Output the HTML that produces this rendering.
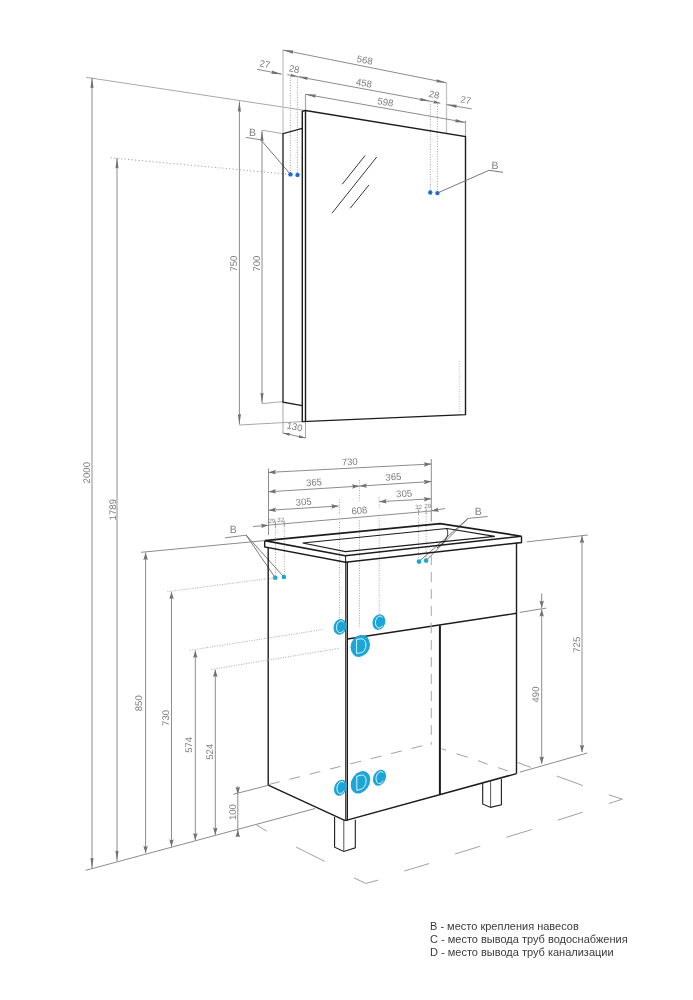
<!DOCTYPE html>
<html><head><meta charset="utf-8"><style>
html,body{margin:0;padding:0;background:#fff;width:693px;height:1000px;overflow:hidden}
svg{display:block;will-change:transform;text-rendering:geometricPrecision;font-family:"Liberation Sans",sans-serif}
.leg{position:absolute;left:430px;top:919.7px;font-family:"Liberation Sans",sans-serif;font-size:11px;line-height:13.3px;color:#3a3a3a;white-space:nowrap}
</style></head><body>
<svg width="693" height="1000" viewBox="0 0 693 1000">
<line x1="86" y1="77.3" x2="305.5" y2="110.5" stroke="#a8a8a8" stroke-width="1" stroke-linecap="butt"/>
<line x1="92" y1="77.8" x2="92" y2="868.3" stroke="#8c8c8c" stroke-width="1" stroke-linecap="butt"/>
<path d="M92.00,77.80 L90.40,88.30 L92.00,87.50 L93.60,88.30 Z" fill="#707070"/>
<path d="M92.00,868.30 L93.60,857.80 L92.00,858.60 L90.40,857.80 Z" fill="#707070"/>
<text x="87.4" y="472.7" font-size="9.6" fill="#7d7d7d" text-anchor="middle" dominant-baseline="central" transform="rotate(-90 87.4 472.7)" >2000</text>
<line x1="110.6" y1="157.8" x2="290.5" y2="174.4" stroke="#a0a0a0" stroke-width="1" stroke-linecap="butt" stroke-dasharray="1.2,2.3"/>
<line x1="117" y1="158" x2="117" y2="861" stroke="#8c8c8c" stroke-width="1" stroke-linecap="butt"/>
<path d="M117.00,158.00 L115.40,168.50 L117.00,167.70 L118.60,168.50 Z" fill="#707070"/>
<path d="M117.00,861.00 L118.60,850.50 L117.00,851.30 L115.40,850.50 Z" fill="#707070"/>
<text x="113.1" y="509.7" font-size="9.6" fill="#7d7d7d" text-anchor="middle" dominant-baseline="central" transform="rotate(-90 113.1 509.7)" >1789</text>
<line x1="239.4" y1="101.3" x2="239.4" y2="424.5" stroke="#8c8c8c" stroke-width="1" stroke-linecap="butt"/>
<path d="M239.40,101.30 L237.80,111.80 L239.40,111.00 L241.00,111.80 Z" fill="#707070"/>
<path d="M239.40,424.50 L241.00,414.00 L239.40,414.80 L237.80,414.00 Z" fill="#707070"/>
<line x1="239.4" y1="425" x2="302.3" y2="421.6" stroke="#a8a8a8" stroke-width="1" stroke-linecap="butt"/>
<text x="234.8" y="263.6" font-size="9.6" fill="#7d7d7d" text-anchor="middle" dominant-baseline="central" transform="rotate(-90 234.8 263.6)" >750</text>
<line x1="262" y1="130.6" x2="262" y2="403.3" stroke="#8c8c8c" stroke-width="1" stroke-linecap="butt"/>
<path d="M262.00,130.60 L260.40,141.10 L262.00,140.30 L263.60,141.10 Z" fill="#707070"/>
<path d="M262.00,403.30 L263.60,392.80 L262.00,393.60 L260.40,392.80 Z" fill="#707070"/>
<line x1="262" y1="130.2" x2="283" y2="133.7" stroke="#a8a8a8" stroke-width="1" stroke-linecap="butt"/>
<line x1="262" y1="403.6" x2="283" y2="401.6" stroke="#a8a8a8" stroke-width="1" stroke-linecap="butt"/>
<text x="257.4" y="263.6" font-size="9.6" fill="#7d7d7d" text-anchor="middle" dominant-baseline="central" transform="rotate(-90 257.4 263.6)" >700</text>
<text x="252.4" y="132.5" font-size="10.5" fill="#7d7d7d" text-anchor="middle" dominant-baseline="central" transform="rotate(0 252.4 132.5)" >B</text>
<line x1="245.8" y1="137.4" x2="260.8" y2="139.8" stroke="#8c8c8c" stroke-width="1" stroke-linecap="butt"/>
<line x1="260.8" y1="139.8" x2="290.5" y2="174.4" stroke="#6a6a6a" stroke-width="0.9" stroke-linecap="butt"/>
<line x1="283" y1="401.6" x2="283" y2="433.5" stroke="#a8a8a8" stroke-width="1" stroke-linecap="butt"/>
<line x1="305.5" y1="421.6" x2="305.5" y2="438.5" stroke="#a8a8a8" stroke-width="1" stroke-linecap="butt"/>
<line x1="283" y1="433" x2="305.5" y2="438" stroke="#8c8c8c" stroke-width="1" stroke-linecap="butt"/>
<path d="M283.00,433.00 L289.49,436.08 L289.05,434.34 L290.18,432.96 Z" fill="#707070"/>
<path d="M305.50,438.00 L299.01,434.92 L299.45,436.66 L298.32,438.04 Z" fill="#707070"/>
<text x="294.5" y="427.5" font-size="9.5" fill="#7d7d7d" text-anchor="middle" dominant-baseline="central" transform="rotate(12.528807709151511 294.5 427.5)" >130</text>
<line x1="283" y1="49.5" x2="283" y2="133.7" stroke="#c4c4c4" stroke-width="1.3" stroke-linecap="butt"/>
<line x1="446.5" y1="82.5" x2="446.5" y2="133" stroke="#c4c4c4" stroke-width="1.3" stroke-linecap="butt"/>
<line x1="283" y1="50.1" x2="446.5" y2="82.8" stroke="#8c8c8c" stroke-width="1" stroke-linecap="butt"/>
<path d="M283.00,50.10 L292.98,53.73 L292.51,52.00 L293.61,50.59 Z" fill="#707070"/>
<path d="M446.50,82.80 L436.52,79.17 L436.99,80.90 L435.89,82.31 Z" fill="#707070"/>
<text x="364.7" y="60.8" font-size="9.6" fill="#7d7d7d" text-anchor="middle" dominant-baseline="central" transform="rotate(11.309932474020213 364.7 60.8)" >568</text>
<line x1="257" y1="69.3" x2="281.8" y2="74.2" stroke="#8c8c8c" stroke-width="1" stroke-linecap="butt"/>
<path d="M281.80,74.20 L271.81,70.60 L272.28,72.32 L271.19,73.73 Z" fill="#707070"/>
<text x="264.8" y="64.8" font-size="9.5" fill="#7d7d7d" text-anchor="middle" dominant-baseline="central" transform="rotate(11.176583344319015 264.8 64.8)" >27</text>
<line x1="287.3" y1="74.6" x2="297.4" y2="76.6" stroke="#8c8c8c" stroke-width="1" stroke-linecap="butt"/>
<path d="M297.40,76.60 L290.84,73.67 L291.32,75.40 L290.22,76.81 Z" fill="#707070"/>
<line x1="297.4" y1="76.6" x2="430.3" y2="101.2" stroke="#8c8c8c" stroke-width="1" stroke-linecap="butt"/>
<path d="M297.40,76.60 L307.43,80.08 L306.94,78.37 L308.02,76.94 Z" fill="#707070"/>
<path d="M430.30,101.20 L420.27,97.72 L420.76,99.43 L419.68,100.86 Z" fill="#707070"/>
<text x="294.1" y="69.9" font-size="9.5" fill="#7d7d7d" text-anchor="middle" dominant-baseline="central" transform="rotate(11 294.1 69.9)" >28</text>
<text x="363.8" y="83.9" font-size="9.6" fill="#7d7d7d" text-anchor="middle" dominant-baseline="central" transform="rotate(10.486845553323574 363.8 83.9)" >458</text>
<line x1="430.3" y1="101.2" x2="440.4" y2="103.2" stroke="#8c8c8c" stroke-width="1" stroke-linecap="butt"/>
<path d="M440.40,103.20 L433.84,100.27 L434.32,102.00 L433.22,103.41 Z" fill="#707070"/>
<text x="434" y="95.2" font-size="9.5" fill="#7d7d7d" text-anchor="middle" dominant-baseline="central" transform="rotate(11 434 95.2)" >28</text>
<line x1="446.5" y1="104.6" x2="471.7" y2="108.9" stroke="#8c8c8c" stroke-width="1" stroke-linecap="butt"/>
<path d="M446.50,104.60 L456.58,107.94 L456.06,106.23 L457.12,104.79 Z" fill="#707070"/>
<text x="465.7" y="100.8" font-size="9.5" fill="#7d7d7d" text-anchor="middle" dominant-baseline="central" transform="rotate(10 465.7 100.8)" >27</text>
<line x1="305.5" y1="93.8" x2="305.5" y2="110.5" stroke="#a8a8a8" stroke-width="1.2" stroke-linecap="butt"/>
<line x1="465.5" y1="120.5" x2="465.5" y2="136.6" stroke="#a8a8a8" stroke-width="1.2" stroke-linecap="butt"/>
<line x1="305.5" y1="94.3" x2="465.5" y2="122.4" stroke="#8c8c8c" stroke-width="1" stroke-linecap="butt"/>
<path d="M305.50,94.30 L315.56,97.69 L315.05,95.98 L316.12,94.54 Z" fill="#707070"/>
<path d="M465.50,122.40 L455.44,119.01 L455.95,120.72 L454.88,122.16 Z" fill="#707070"/>
<text x="385.4" y="102.9" font-size="9.6" fill="#7d7d7d" text-anchor="middle" dominant-baseline="central" transform="rotate(9.960987588293117 385.4 102.9)" >598</text>
<line x1="290.4" y1="75" x2="290.4" y2="174.4" stroke="#a0a0a0" stroke-width="0.9" stroke-linecap="butt" stroke-dasharray="1.1,1.4"/>
<line x1="297.4" y1="77" x2="297.4" y2="175" stroke="#a0a0a0" stroke-width="0.9" stroke-linecap="butt" stroke-dasharray="1.1,1.4"/>
<line x1="430.3" y1="101.5" x2="430.3" y2="192.5" stroke="#a0a0a0" stroke-width="0.9" stroke-linecap="butt" stroke-dasharray="1.1,1.4"/>
<line x1="437.4" y1="103.5" x2="437.4" y2="193" stroke="#a0a0a0" stroke-width="0.9" stroke-linecap="butt" stroke-dasharray="1.1,1.4"/>
<path d="M302.3,421.6 L302.3,111.3 L305.5,110.5 L465.5,136.6 L465.5,414.6 Z" stroke="#1c1c1c" stroke-width="1.4" fill="none" stroke-linejoin="miter"/>
<line x1="305.5" y1="110.5" x2="305.5" y2="421.4" stroke="#1c1c1c" stroke-width="1.4" stroke-linecap="butt"/>
<path d="M302.3,128.3 L283,133.7 L283,402.2 L302.3,405.6" stroke="#1c1c1c" stroke-width="1.3" fill="none" stroke-linejoin="miter"/>
<line x1="342.2" y1="184.3" x2="365.2" y2="155.4" stroke="#3a3a3a" stroke-width="1" stroke-linecap="butt"/>
<line x1="332" y1="213.2" x2="376.8" y2="156.9" stroke="#3a3a3a" stroke-width="1" stroke-linecap="butt"/>
<line x1="350.2" y1="208.3" x2="369" y2="184.9" stroke="#3a3a3a" stroke-width="1" stroke-linecap="butt"/>
<line x1="459.4" y1="361" x2="459.4" y2="413.6" stroke="#b8b8b8" stroke-width="0.8" stroke-linecap="butt" stroke-dasharray="1.1,1.4"/>
<circle cx="290.5" cy="174.4" r="2.2" fill="#1a6fc9"/>
<circle cx="297.5" cy="174.9" r="2.2" fill="#1a6fc9"/>
<circle cx="430.3" cy="192.5" r="2.2" fill="#1a6fc9"/>
<circle cx="437.4" cy="193.1" r="2.2" fill="#1a6fc9"/>
<path d="M437.4,193.1 L488.9,170.3 L503,172.3" stroke="#6a6a6a" stroke-width="0.9" fill="none" stroke-linejoin="miter"/>
<text x="495" y="165.9" font-size="10.5" fill="#7d7d7d" text-anchor="middle" dominant-baseline="central" transform="rotate(0 495 165.9)" >B</text>
<line x1="268.5" y1="468.5" x2="268.5" y2="535" stroke="#8c8c8c" stroke-width="1" stroke-linecap="butt"/>
<line x1="431.3" y1="459" x2="431.3" y2="521.4" stroke="#8c8c8c" stroke-width="1" stroke-linecap="butt"/>
<line x1="268.5" y1="472.4" x2="431.3" y2="464" stroke="#8c8c8c" stroke-width="1" stroke-linecap="butt"/>
<path d="M268.50,472.40 L276.11,474.26 L274.79,472.08 L275.87,469.77 Z" fill="#707070"/>
<path d="M431.30,464.00 L423.69,462.14 L425.01,464.32 L423.93,466.63 Z" fill="#707070"/>
<text x="349.8" y="462.7" font-size="9.6" fill="#7d7d7d" text-anchor="middle" dominant-baseline="central" transform="rotate(-2.9536740048968197 349.8 462.7)" >730</text>
<line x1="268.5" y1="491.8" x2="359.5" y2="486.1" stroke="#8c8c8c" stroke-width="1" stroke-linecap="butt"/>
<path d="M268.50,491.80 L276.13,493.58 L274.79,491.41 L275.84,489.09 Z" fill="#707070"/>
<path d="M359.50,486.10 L351.87,484.32 L353.21,486.49 L352.16,488.81 Z" fill="#707070"/>
<text x="314" y="483.2" font-size="9.6" fill="#7d7d7d" text-anchor="middle" dominant-baseline="central" transform="rotate(-3.584173983556628 314 483.2)" >365</text>
<line x1="359.5" y1="486.1" x2="431.3" y2="481.5" stroke="#8c8c8c" stroke-width="1" stroke-linecap="butt"/>
<path d="M359.50,486.10 L367.13,487.87 L365.79,485.70 L366.84,483.38 Z" fill="#707070"/>
<path d="M431.30,481.50 L423.67,479.73 L425.01,481.90 L423.96,484.22 Z" fill="#707070"/>
<text x="393.4" y="477.7" font-size="9.6" fill="#7d7d7d" text-anchor="middle" dominant-baseline="central" transform="rotate(-3.665750292630392 393.4 477.7)" >365</text>
<line x1="268.5" y1="510.3" x2="338.7" y2="506" stroke="#8c8c8c" stroke-width="1" stroke-linecap="butt"/>
<path d="M268.50,510.30 L276.12,512.09 L274.79,509.91 L275.85,507.60 Z" fill="#707070"/>
<path d="M338.70,506.00 L331.08,504.21 L332.41,506.39 L331.35,508.70 Z" fill="#707070"/>
<text x="303.7" y="502.7" font-size="9.6" fill="#7d7d7d" text-anchor="middle" dominant-baseline="central" transform="rotate(-3.5051910933174146 303.7 502.7)" >305</text>
<line x1="379.2" y1="501.7" x2="431.3" y2="498.8" stroke="#8c8c8c" stroke-width="1" stroke-linecap="butt"/>
<path d="M379.20,501.70 L386.81,503.53 L385.49,501.35 L386.56,499.04 Z" fill="#707070"/>
<path d="M431.30,498.80 L423.69,496.97 L425.01,499.15 L423.94,501.46 Z" fill="#707070"/>
<text x="404.2" y="494.4" font-size="9.6" fill="#7d7d7d" text-anchor="middle" dominant-baseline="central" transform="rotate(-3.185920879861791 404.2 494.4)" >305</text>
<line x1="268.5" y1="525.1" x2="431.3" y2="511" stroke="#8c8c8c" stroke-width="1" stroke-linecap="butt"/>
<text x="359.5" y="511.3" font-size="9.6" fill="#7d7d7d" text-anchor="middle" dominant-baseline="central" transform="rotate(-4.949997179783201 359.5 511.3)" >608</text>
<line x1="253" y1="526.5" x2="268.5" y2="525.3" stroke="#8c8c8c" stroke-width="1" stroke-linecap="butt"/>
<path d="M268.50,525.30 L260.85,523.64 L262.22,525.79 L261.20,528.12 Z" fill="#707070"/>
<line x1="431.3" y1="510.9" x2="445" y2="508.5" stroke="#8c8c8c" stroke-width="1" stroke-linecap="butt"/>
<path d="M431.30,510.90 L439.08,511.82 L437.51,509.81 L438.30,507.39 Z" fill="#707070"/>
<text x="271.9" y="521.4" font-size="6.2" fill="#7d7d7d" text-anchor="middle" dominant-baseline="central" transform="rotate(0 271.9 521.4)" >29</text>
<text x="280.8" y="520.8" font-size="6.2" fill="#7d7d7d" text-anchor="middle" dominant-baseline="central" transform="rotate(0 280.8 520.8)" >32</text>
<text x="418.6" y="507" font-size="6.2" fill="#7d7d7d" text-anchor="middle" dominant-baseline="central" transform="rotate(0 418.6 507)" >32</text>
<text x="427.6" y="506" font-size="6.2" fill="#7d7d7d" text-anchor="middle" dominant-baseline="central" transform="rotate(0 427.6 506)" >29</text>
<line x1="275.5" y1="521.4937346437347" x2="275.5" y2="526.9937346437347" stroke="#8c8c8c" stroke-width="0.9" stroke-linecap="butt"/>
<line x1="284.3" y1="520.7315724815725" x2="284.3" y2="526.2315724815725" stroke="#8c8c8c" stroke-width="0.9" stroke-linecap="butt"/>
<line x1="418.6" y1="509.0999385749386" x2="418.6" y2="514.5999385749386" stroke="#8c8c8c" stroke-width="0.9" stroke-linecap="butt"/>
<line x1="426.1" y1="508.4503685503685" x2="426.1" y2="513.9503685503685" stroke="#8c8c8c" stroke-width="0.9" stroke-linecap="butt"/>
<line x1="275.5" y1="522" x2="275.5" y2="577" stroke="#a6a6a6" stroke-width="0.9" stroke-linecap="butt" stroke-dasharray="1.1,1.4"/>
<line x1="284.3" y1="521" x2="284.3" y2="576.5" stroke="#a6a6a6" stroke-width="0.9" stroke-linecap="butt" stroke-dasharray="1.1,1.4"/>
<line x1="418.6" y1="512" x2="418.6" y2="561" stroke="#a6a6a6" stroke-width="0.9" stroke-linecap="butt" stroke-dasharray="1.1,1.4"/>
<line x1="426.1" y1="511" x2="426.1" y2="560" stroke="#a6a6a6" stroke-width="0.9" stroke-linecap="butt" stroke-dasharray="1.1,1.4"/>
<line x1="359.5" y1="480" x2="359.5" y2="500.7" stroke="#a6a6a6" stroke-width="0.9" stroke-linecap="butt" stroke-dasharray="1.1,1.4"/>
<line x1="359.5" y1="520.2" x2="359.5" y2="628" stroke="#a6a6a6" stroke-width="0.9" stroke-linecap="butt" stroke-dasharray="1.1,1.4"/>
<line x1="339.5" y1="499.4" x2="339.5" y2="515" stroke="#a6a6a6" stroke-width="0.9" stroke-linecap="butt" stroke-dasharray="1.1,1.4"/>
<line x1="339.5" y1="522" x2="339.5" y2="620" stroke="#a6a6a6" stroke-width="0.9" stroke-linecap="butt" stroke-dasharray="1.1,1.4"/>
<line x1="379.2" y1="496.8" x2="379.2" y2="509" stroke="#a6a6a6" stroke-width="0.9" stroke-linecap="butt" stroke-dasharray="1.1,1.4"/>
<line x1="379.2" y1="517.6" x2="379.2" y2="615" stroke="#a6a6a6" stroke-width="0.9" stroke-linecap="butt" stroke-dasharray="1.1,1.4"/>
<text x="233.2" y="530.1" font-size="10.5" fill="#7d7d7d" text-anchor="middle" dominant-baseline="central" transform="rotate(0 233.2 530.1)" >B</text>
<line x1="225" y1="537.8" x2="246.2" y2="535.2" stroke="#8c8c8c" stroke-width="1" stroke-linecap="butt"/>
<line x1="246.2" y1="535.2" x2="275.2" y2="577.7" stroke="#6a6a6a" stroke-width="0.9" stroke-linecap="butt"/>
<line x1="246.2" y1="535.2" x2="283.9" y2="577" stroke="#6a6a6a" stroke-width="0.9" stroke-linecap="butt"/>
<text x="478.2" y="512.2" font-size="10.5" fill="#7d7d7d" text-anchor="middle" dominant-baseline="central" transform="rotate(0 478.2 512.2)" >B</text>
<line x1="468.1" y1="518.4" x2="487.6" y2="516.5" stroke="#8c8c8c" stroke-width="1" stroke-linecap="butt"/>
<line x1="468.1" y1="518.4" x2="419" y2="561.6" stroke="#6a6a6a" stroke-width="0.9" stroke-linecap="butt"/>
<line x1="468.1" y1="518.4" x2="426.1" y2="560.6" stroke="#6a6a6a" stroke-width="0.9" stroke-linecap="butt"/>
<path d="M264.7,540.6 L440.2,523.6 L521.5,536.2 L345.2,555.7 Z" stroke="#1c1c1c" stroke-width="1.6" fill="none" stroke-linejoin="miter"/>
<path d="M264.7,540.6 L264.7,546.9 L345.6,562.3 L521.5,542.5 L521.5,536.2" stroke="#1c1c1c" stroke-width="1.4" fill="none" stroke-linejoin="miter"/>
<line x1="345.6" y1="555.7" x2="345.6" y2="562.3" stroke="#1c1c1c" stroke-width="1.0" stroke-linecap="butt"/>
<path d="M302.6,543 L447,528.5 L494.8,536.4 L345.6,551.6 Z" stroke="#1c1c1c" stroke-width="1.1" fill="none" stroke-linejoin="miter"/>
<path d="M447,529 C450,536 444,543 437,548" stroke="#1c1c1c" stroke-width="0.9" fill="none" stroke-linejoin="miter"/>
<line x1="268.2" y1="547" x2="268.2" y2="785.1" stroke="#1c1c1c" stroke-width="1.4" stroke-linecap="butt"/>
<line x1="268.2" y1="785.1" x2="345.2" y2="820.6" stroke="#1c1c1c" stroke-width="1.4" stroke-linecap="butt"/>
<line x1="345.8" y1="561.8" x2="345.8" y2="820.6" stroke="#1c1c1c" stroke-width="1.2" stroke-linecap="butt"/>
<line x1="347.4" y1="561.8" x2="347.4" y2="820.6" stroke="#1c1c1c" stroke-width="1.2" stroke-linecap="butt"/>
<line x1="516.5" y1="542.8" x2="516.5" y2="773.6" stroke="#1c1c1c" stroke-width="1.4" stroke-linecap="butt"/>
<line x1="345.2" y1="820.6" x2="516.5" y2="773.6" stroke="#1c1c1c" stroke-width="1.5" stroke-linecap="butt"/>
<line x1="347.4" y1="639" x2="516.5" y2="613.3" stroke="#1c1c1c" stroke-width="1.4" stroke-linecap="butt"/>
<line x1="439.9" y1="625.5" x2="439.9" y2="794.5" stroke="#1c1c1c" stroke-width="2" stroke-linecap="butt"/>
<path d="M334.6,816.9 L334.6,847.2 L343.8,851.5 L355.3,847.8 L355.3,819.8" stroke="#1c1c1c" stroke-width="1.1" fill="none" stroke-linejoin="miter"/>
<line x1="343.8" y1="819" x2="343.8" y2="851.5" stroke="#444" stroke-width="0.9" stroke-linecap="butt"/>
<path d="M482.7,783.2 L482.7,804 L490.6,807.4 L501.4,804.8 L501.4,778.9" stroke="#1c1c1c" stroke-width="1.1" fill="none" stroke-linejoin="miter"/>
<line x1="490.6" y1="781" x2="490.6" y2="807.4" stroke="#444" stroke-width="0.9" stroke-linecap="butt"/>
<line x1="268.9" y1="784.5" x2="426" y2="744.8" stroke="#a0a0a0" stroke-width="1" stroke-linecap="butt" stroke-dasharray="11,10"/>
<line x1="431.3" y1="555" x2="431.3" y2="744.8" stroke="#a8a8a8" stroke-width="1" stroke-linecap="butt" stroke-dasharray="10,7"/>
<line x1="441.6" y1="748.6" x2="446" y2="750.3" stroke="#a0a0a0" stroke-width="1" stroke-linecap="butt"/>
<line x1="456.4" y1="753.8" x2="467.6" y2="757.2" stroke="#a0a0a0" stroke-width="1" stroke-linecap="butt"/>
<line x1="478" y1="760.7" x2="487.5" y2="764.2" stroke="#a0a0a0" stroke-width="1" stroke-linecap="butt"/>
<line x1="498" y1="767.6" x2="508.3" y2="771.1" stroke="#a0a0a0" stroke-width="1" stroke-linecap="butt"/>
<circle cx="275.2" cy="577.7" r="2.3" fill="#1ba5d8"/>
<circle cx="283.9" cy="577" r="2.3" fill="#1ba5d8"/>
<circle cx="419" cy="561.6" r="2.3" fill="#1ba5d8"/>
<circle cx="426.1" cy="560.6" r="2.3" fill="#1ba5d8"/>
<g transform="translate(340 626.9) skewY(-8.59)"><ellipse cx="0" cy="0" rx="6.5" ry="7.8" fill="#1ba5d8"/><path d="M3.1,-3.9 A4.1,5.9 0 1 0 3.1,3.9" transform="translate(0.6 0)" fill="none" stroke="#fff" stroke-width="0.8"/></g>
<g transform="translate(378.9 622.1) skewY(-8.59)"><ellipse cx="0" cy="0" rx="6.5" ry="7.7" fill="#1ba5d8"/><path d="M3.1,-3.9 A4.1,5.9 0 1 0 3.1,3.9" transform="translate(0.6 0)" fill="none" stroke="#fff" stroke-width="0.8"/></g>
<g transform="translate(360.3 645.9) skewY(-8.59)"><ellipse cx="0" cy="0" rx="9.75" ry="10.9" fill="#1ba5d8"/><path d="M-4.3,-7 L-4.3,7 L0.2,7 A4.8,7 0 0 0 0.2,-7 Z" transform="translate(0.6 0)" fill="none" stroke="#fff" stroke-width="0.8"/></g>
<g transform="translate(340.4 787.7) skewY(-15.38)"><ellipse cx="0" cy="0" rx="6.5" ry="7.8" fill="#1ba5d8"/><path d="M3.1,-3.9 A4.1,5.9 0 1 0 3.1,3.9" transform="translate(0.6 0)" fill="none" stroke="#fff" stroke-width="0.8"/></g>
<g transform="translate(360.5 782.3) skewY(-15.38)"><ellipse cx="0" cy="0" rx="9.75" ry="10.9" fill="#1ba5d8"/><path d="M-4.3,-7 L-4.3,7 L0.2,7 A4.8,7 0 0 0 0.2,-7 Z" transform="translate(0.6 0)" fill="none" stroke="#fff" stroke-width="0.8"/></g>
<g transform="translate(379.5 777.8) skewY(-15.38)"><ellipse cx="0" cy="0" rx="6.6" ry="7.8" fill="#1ba5d8"/><path d="M3.1,-3.9 A4.1,5.9 0 1 0 3.1,3.9" transform="translate(0.6 0)" fill="none" stroke="#fff" stroke-width="0.8"/></g>
<line x1="141.1" y1="552.3" x2="264.7" y2="540.6" stroke="#8c8c8c" stroke-width="1" stroke-linecap="butt"/>
<line x1="145.6" y1="552.6" x2="145.6" y2="853.3" stroke="#8c8c8c" stroke-width="1" stroke-linecap="butt"/>
<path d="M145.60,552.60 L143.35,560.10 L145.60,558.90 L147.85,560.10 Z" fill="#707070"/>
<path d="M145.60,853.30 L147.85,845.80 L145.60,847.00 L143.35,845.80 Z" fill="#707070"/>
<text x="139.8" y="703.2" font-size="9.6" fill="#7d7d7d" text-anchor="middle" dominant-baseline="central" transform="rotate(-90 139.8 703.2)" >850</text>
<line x1="167.4" y1="591.7" x2="275.2" y2="577.7" stroke="#a6a6a6" stroke-width="0.9" stroke-linecap="butt" stroke-dasharray="1.1,1.4"/>
<line x1="171.5" y1="591.8" x2="171.5" y2="846.8" stroke="#8c8c8c" stroke-width="1" stroke-linecap="butt"/>
<path d="M171.50,591.80 L169.25,599.30 L171.50,598.10 L173.75,599.30 Z" fill="#707070"/>
<path d="M171.50,846.80 L173.75,839.30 L171.50,840.50 L169.25,839.30 Z" fill="#707070"/>
<text x="166.7" y="717.9" font-size="9.6" fill="#7d7d7d" text-anchor="middle" dominant-baseline="central" transform="rotate(-90 166.7 717.9)" >730</text>
<line x1="189.8" y1="650.3" x2="323.5" y2="629.4" stroke="#a6a6a6" stroke-width="0.9" stroke-linecap="butt" stroke-dasharray="1.1,1.4"/>
<line x1="195.3" y1="650.5" x2="195.3" y2="840.5" stroke="#8c8c8c" stroke-width="1" stroke-linecap="butt"/>
<path d="M195.30,650.50 L193.05,658.00 L195.30,656.80 L197.55,658.00 Z" fill="#707070"/>
<path d="M195.30,840.50 L197.55,833.00 L195.30,834.20 L193.05,833.00 Z" fill="#707070"/>
<text x="189.2" y="744.8" font-size="9.6" fill="#7d7d7d" text-anchor="middle" dominant-baseline="central" transform="rotate(-90 189.2 744.8)" >574</text>
<line x1="211.4" y1="669.4" x2="339.5" y2="648.3" stroke="#a6a6a6" stroke-width="0.9" stroke-linecap="butt" stroke-dasharray="1.1,1.4"/>
<line x1="215.3" y1="669.6" x2="215.3" y2="835" stroke="#8c8c8c" stroke-width="1" stroke-linecap="butt"/>
<path d="M215.30,669.60 L213.05,677.10 L215.30,675.90 L217.55,677.10 Z" fill="#707070"/>
<path d="M215.30,835.00 L217.55,827.50 L215.30,828.70 L213.05,827.50 Z" fill="#707070"/>
<text x="210.8" y="751.7" font-size="9.6" fill="#7d7d7d" text-anchor="middle" dominant-baseline="central" transform="rotate(-90 210.8 751.7)" >524</text>
<line x1="233.3" y1="794.3" x2="268.3" y2="785.3" stroke="#8c8c8c" stroke-width="1" stroke-linecap="butt"/>
<line x1="237.8" y1="786" x2="237.8" y2="837" stroke="#8c8c8c" stroke-width="1" stroke-linecap="butt"/>
<path d="M237.80,794.30 L240.05,786.80 L237.80,788.00 L235.55,786.80 Z" fill="#707070"/>
<path d="M237.80,829.70 L235.55,837.20 L237.80,836.00 L240.05,837.20 Z" fill="#707070"/>
<text x="233.1" y="812.1" font-size="9.6" fill="#7d7d7d" text-anchor="middle" dominant-baseline="central" transform="rotate(-90 233.1 812.1)" >100</text>
<line x1="85.5" y1="870.4" x2="315.2" y2="808.5" stroke="#8c8c8c" stroke-width="1" stroke-linecap="butt"/>
<line x1="526.6" y1="541.9" x2="587.8" y2="535" stroke="#8c8c8c" stroke-width="1" stroke-linecap="butt"/>
<line x1="582" y1="535.8" x2="582" y2="752.2" stroke="#8c8c8c" stroke-width="1" stroke-linecap="butt"/>
<path d="M582.00,535.80 L579.75,543.30 L582.00,542.10 L584.25,543.30 Z" fill="#707070"/>
<path d="M582.00,752.20 L584.25,744.70 L582.00,745.90 L579.75,744.70 Z" fill="#707070"/>
<text x="577.1" y="644.7" font-size="9.6" fill="#7d7d7d" text-anchor="middle" dominant-baseline="central" transform="rotate(-90 577.1 644.7)" >725</text>
<line x1="519.7" y1="772.2" x2="587.3" y2="753" stroke="#8c8c8c" stroke-width="1" stroke-linecap="butt"/>
<line x1="519.7" y1="612.4" x2="546.2" y2="608.1" stroke="#8c8c8c" stroke-width="1" stroke-linecap="butt"/>
<line x1="541.7" y1="593.4" x2="541.7" y2="608" stroke="#8c8c8c" stroke-width="1" stroke-linecap="butt"/>
<path d="M541.70,608.00 L543.95,600.50 L541.70,601.70 L539.45,600.50 Z" fill="#707070"/>
<line x1="541.7" y1="609.3" x2="541.7" y2="763.9" stroke="#8c8c8c" stroke-width="1" stroke-linecap="butt"/>
<path d="M541.70,609.30 L539.45,616.80 L541.70,615.60 L543.95,616.80 Z" fill="#707070"/>
<path d="M541.70,763.90 L543.95,756.40 L541.70,757.60 L539.45,756.40 Z" fill="#707070"/>
<text x="536.6" y="694.5" font-size="9.6" fill="#7d7d7d" text-anchor="middle" dominant-baseline="central" transform="rotate(-90 536.6 694.5)" >490</text>
<line x1="256.6" y1="825" x2="266.7" y2="831.1" stroke="#a0a0a0" stroke-width="1" stroke-linecap="butt"/>
<line x1="296.1" y1="847.1" x2="324.7" y2="861.4" stroke="#a0a0a0" stroke-width="1" stroke-linecap="butt"/>
<line x1="354" y1="877.8" x2="365.7" y2="883.5" stroke="#a0a0a0" stroke-width="1" stroke-linecap="butt"/>
<line x1="365.7" y1="883.5" x2="378.2" y2="880.1" stroke="#a0a0a0" stroke-width="1" stroke-linecap="butt"/>
<line x1="404.2" y1="871" x2="429.4" y2="863.5" stroke="#a0a0a0" stroke-width="1" stroke-linecap="butt"/>
<line x1="455" y1="854" x2="480.4" y2="846.2" stroke="#a0a0a0" stroke-width="1" stroke-linecap="butt"/>
<line x1="506.4" y1="837.3" x2="531.8" y2="829.5" stroke="#a0a0a0" stroke-width="1" stroke-linecap="butt"/>
<line x1="557.7" y1="820.2" x2="582.9" y2="812.2" stroke="#a0a0a0" stroke-width="1" stroke-linecap="butt"/>
<line x1="608.8" y1="803.5" x2="622.4" y2="799.2" stroke="#a0a0a0" stroke-width="1" stroke-linecap="butt"/>
<line x1="622.4" y1="799.2" x2="608.8" y2="794.8" stroke="#a0a0a0" stroke-width="1" stroke-linecap="butt"/>
<line x1="582.9" y1="785.6" x2="556.9" y2="776.1" stroke="#a0a0a0" stroke-width="1" stroke-linecap="butt"/>
<line x1="530.9" y1="767.4" x2="517.9" y2="762.5" stroke="#a0a0a0" stroke-width="1" stroke-linecap="butt"/>
</svg>
<div class="leg">B - место крепления навесов<br>C - место вывода труб водоснабжения<br>D - место вывода труб канализации</div>
</body></html>
